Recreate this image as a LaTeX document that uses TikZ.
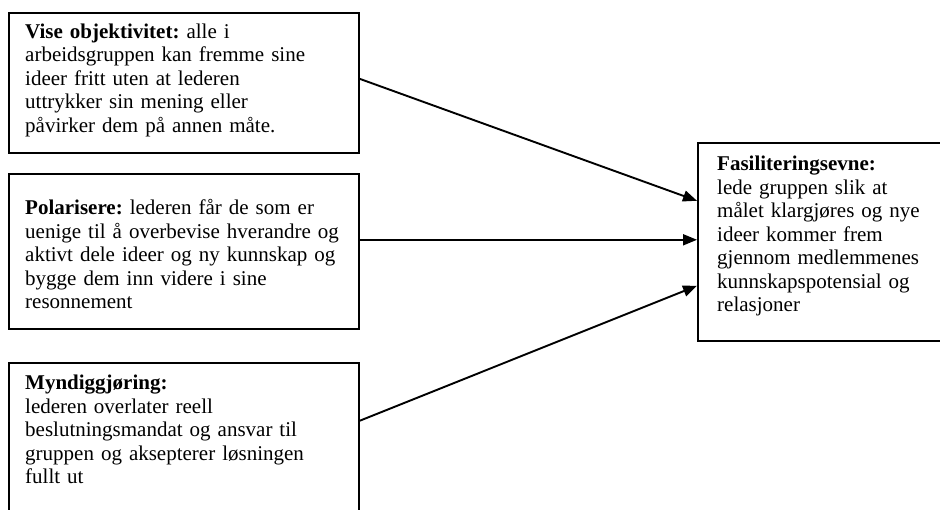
\documentclass[tikz,border=0pt]{standalone}
\usepackage{fontspec}
\setmainfont{Liberation Serif}
\usetikzlibrary{arrows.meta}
\frenchspacing
\tikzset{
  box/.style={draw=black, line width=1.6pt, rectangle, inner sep=0pt, anchor=north west},
  txt/.style={anchor=base west, inner sep=0pt, align=left, text width=#1,
    font=\fontsize{21}{23.5}\selectfont},
  conn/.style={line width=1.9pt, -{Triangle[length=14pt,width=11pt]}}
}
\begin{document}
\begin{tikzpicture}[x=1pt,y=-1pt]
\useasboundingbox (0,0) rectangle (940,510);
\clip (0,0) rectangle (940,510);
\node[box, minimum width=350pt, minimum height=140pt] (b1) at (8,12) {};
\node[box, minimum width=350pt, minimum height=155pt] (b2) at (8,173) {};
\node[box, minimum width=350pt, minimum height=150pt] (b3) at (8,362) {};
\node[box, minimum width=245pt, minimum height=198pt] (r) at (697,142) {};
\node[txt=340pt] (t1) at (25,38.5) {\textbf{Vise objektivitet:} alle i\\arbeidsgruppen kan fremme sine\\ideer fritt uten at lederen\\uttrykker sin mening eller\\påvirker dem på annen måte.};
\node[txt=340pt] (t2) at (25,215) {\textbf{Polarisere:} lederen får de som er\\uenige til å overbevise hverandre og\\aktivt dele ideer og ny kunnskap og\\bygge dem inn videre i sine\\resonnement};
\node[txt=340pt] (t3) at (25,390) {\textbf{Myndiggjøring:}\\lederen overlater reell\\beslutningsmandat og ansvar til\\gruppen og aksepterer løsningen\\fullt ut};
\node[txt=230pt] (t4) at (717,171) {\textbf{Fasiliteringsevne:}\\lede gruppen slik at\\målet klargjøres og nye\\ideer kommer frem\\gjennom medlemmenes\\kunnskapspotensial og\\relasjoner};
\draw[conn] ([yshift=4pt]b1.east) -- ([yshift=41pt]r.west);
\draw[conn] ([yshift=11.5pt]b2.east) -- ([yshift=2pt]r.west);
\draw[conn] ([yshift=17pt]b3.east) -- ([yshift=-44pt]r.west);
\end{tikzpicture}
\end{document}
